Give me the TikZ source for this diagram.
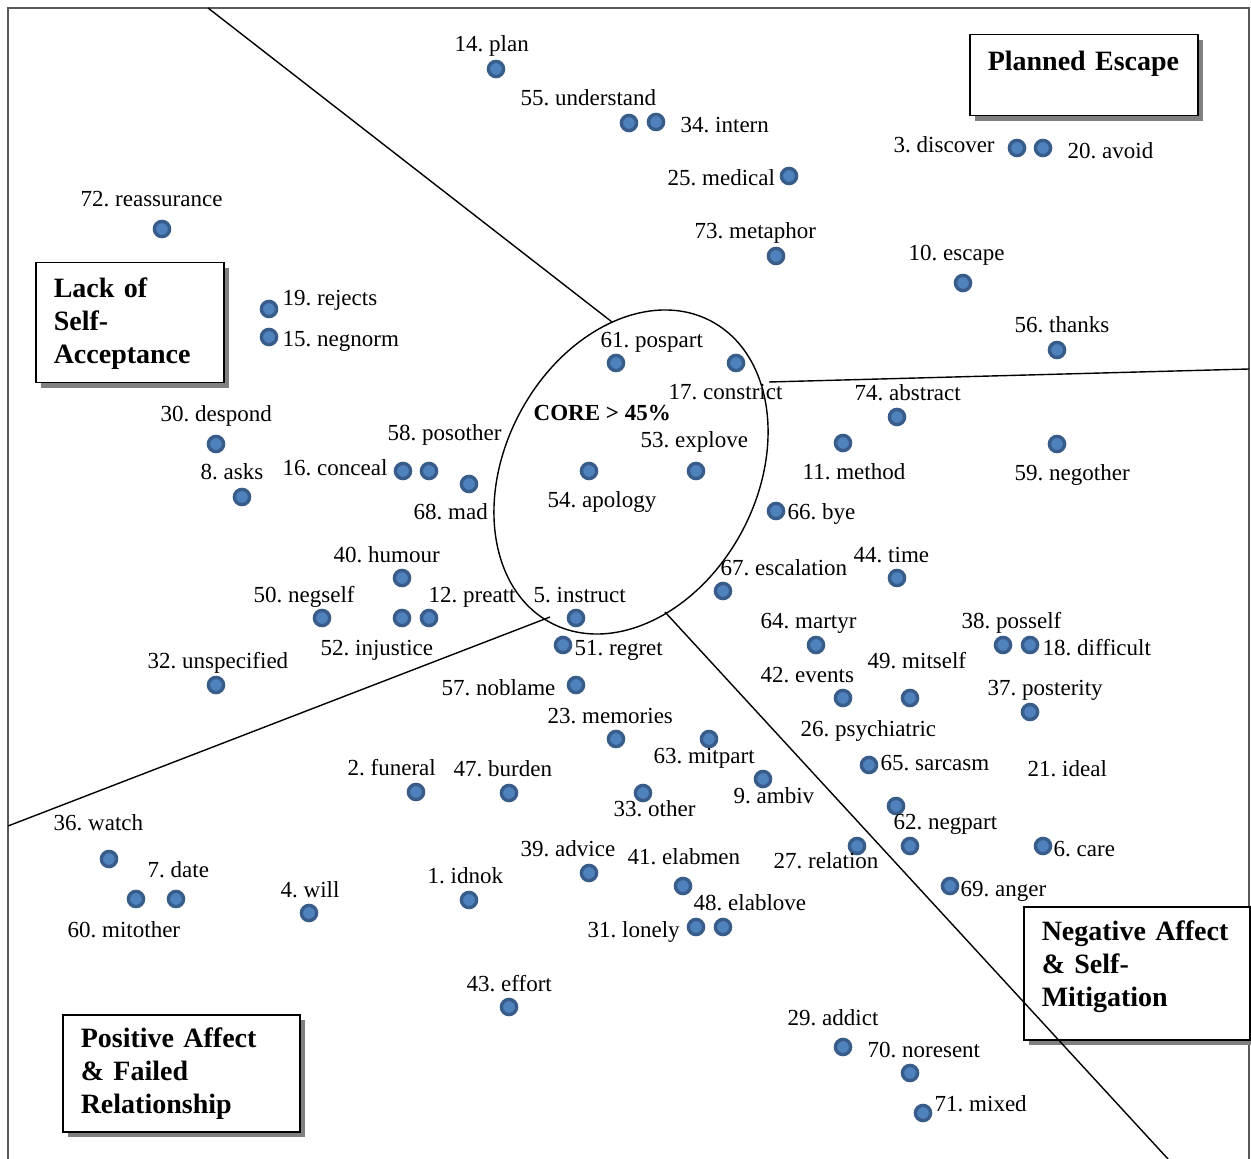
\documentclass[tikz,border=0pt]{standalone}
\usepackage{fontspec}
\setmainfont{Liberation Serif}
\usepackage{tikz}
\usetikzlibrary{shadows}
\definecolor{dotline}{HTML}{385D8A}
\definecolor{dotfill}{HTML}{4F81BD}
\frenchspacing

\begin{document}
\begin{tikzpicture}[x=0.5pt, y=-0.5pt, line width=0.7pt,
                    dot/.style = {circle, draw=dotline, fill=dotfill,
                        line width=1.7pt, minimum size=7.6pt, inner sep=0pt},
                    lbl/.style = {anchor=base west, inner sep=0pt,
                        font=\fontsize{11.5}{13}\selectfont},
                    catbox/.style = {draw, line width=0.75pt, fill=white,
                        drop shadow={shadow xshift=2.5pt, shadow yshift=-2.5pt,
                        fill=black!50, opacity=1},
                        anchor=north west, align=left, inner xsep=9pt, inner ysep=8pt,
                        font=\fontsize{14}{16.5}\selectfont\bfseries}]
        \useasboundingbox (0,0) rectangle (1251,1159);
        \draw[black!65] (8,1160) -- (8,8) -- (1249,8) -- (1249,1160);

        \node[catbox, text width=96pt, text height=10pt, text depth=14.5pt] (escape) at (969,34) {Planned Escape};
        \node[catbox, text width=76pt, text height=9.5pt, text depth=34.5pt] (lack) at (35,262) {Lack of\\Self-\\Acceptance};
        \node[catbox, text width=100.5pt, text height=8.5pt, text depth=34pt] (positive) at (62,1014) {Positive Affect\\\& Failed\\Relationship};
        \node[catbox, text width=95pt, text height=9pt, text depth=41.5pt] (negative) at (1023,906) {Negative Affect\\\& Self-\\Mitigation};

        \draw[rotate around={62:(631,472)}] (631,472) ellipse [x radius=170.8, y radius=125.9];
        \draw (208,8) -- (612,322);
        \draw (769,382) -- (1249,369);
        \draw (8,826) -- (550,617);
        \draw (665,612) -- (1168,1159);

        \node[lbl, font=\fontsize{11.5}{13}\selectfont\bfseries] (core) at (533,421) {CORE > 45\%};

        \node[dot] (p72) at (162,229) {};
        \node[dot] (p19) at (269,309) {};
        \node[dot] (p15) at (269,337) {};
        \node[dot] (p14) at (496,69) {};
        \node[dot] (p55) at (629,123) {};
        \node[dot] (p34) at (656,122) {};
        \node[dot] (p25) at (789,176) {};
        \node[dot] (p73) at (776,256) {};
        \node[dot] (p3) at (1017,148) {};
        \node[dot] (p20) at (1043,148) {};
        \node[dot] (p10) at (963,283) {};
        \node[dot] (p56) at (1057,350) {};
        \node[dot] (p61) at (616,363) {};
        \node[dot] (p17) at (736,363) {};
        \node[dot] (p74) at (897,417) {};
        \node[dot] (p11) at (843,443) {};
        \node[dot] (p59) at (1057,444) {};
        \node[dot] (p30) at (216,444) {};
        \node[dot] (p8) at (242,497) {};
        \node[dot] (p16) at (403,471) {};
        \node[dot] (p58) at (429,471) {};
        \node[dot] (p68) at (469,484) {};
        \node[dot] (p54) at (589,471) {};
        \node[dot] (p53) at (696,471) {};
        \node[dot] (p66) at (776,511) {};
        \node[dot] (p40) at (402,578) {};
        \node[dot] (p50) at (322,618) {};
        \node[dot] (p52) at (402,618) {};
        \node[dot] (p12) at (429,618) {};
        \node[dot] (p5) at (576,618) {};
        \node[dot] (p51) at (563,645) {};
        \node[dot] (p32) at (216,685) {};
        \node[dot] (p57) at (576,685) {};
        \node[dot] (p67) at (723,591) {};
        \node[dot] (p44) at (897,578) {};
        \node[dot] (p64) at (816,645) {};
        \node[dot] (p38) at (1003,645) {};
        \node[dot] (p18) at (1030,645) {};
        \node[dot] (p42) at (843,698) {};
        \node[dot] (p49) at (910,698) {};
        \node[dot] (p37) at (1030,712) {};
        \node[dot] (p65) at (869,765) {};
        \node[dot] (p62) at (896,806) {};
        \node[dot] (p26) at (910,846) {};
        \node[dot] (p27) at (857,846) {};
        \node[dot] (p6) at (1043,846) {};
        \node[dot] (p69) at (950,886) {};
        \node[dot] (p23) at (616,739) {};
        \node[dot] (p63) at (709,739) {};
        \node[dot] (p2) at (416,792) {};
        \node[dot] (p47) at (509,793) {};
        \node[dot] (p33) at (643,793) {};
        \node[dot] (p9) at (763,779) {};
        \node[dot] (p36) at (109,859) {};
        \node[dot] (p60) at (136,899) {};
        \node[dot] (p7) at (176,899) {};
        \node[dot] (p4) at (309,913) {};
        \node[dot] (p39) at (589,873) {};
        \node[dot] (p41) at (683,886) {};
        \node[dot] (p1) at (469,900) {};
        \node[dot] (p31) at (696,927) {};
        \node[dot] (p48) at (723,927) {};
        \node[dot] (p43) at (509,1007) {};
        \node[dot] (p29) at (843,1047) {};
        \node[dot] (p70) at (910,1073) {};
        \node[dot] (p71) at (923,1113) {};

        \node[lbl] (t72) at (80,207) {72. reassurance};
        \node[lbl] (t19) at (282,306) {19. rejects};
        \node[lbl] (t15) at (282,347) {15. negnorm};
        \node[lbl] (t14) at (454,52) {14. plan};
        \node[lbl] (t55) at (520,106) {55. understand};
        \node[lbl] (t34) at (680,133) {34. intern};
        \node[lbl] (t25) at (667,186) {25. medical};
        \node[lbl] (t73) at (694,239) {73. metaphor};
        \node[lbl] (t3) at (893,153) {3. discover};
        \node[lbl] (t20) at (1067,159) {20. avoid};
        \node[lbl] (t10) at (908,261) {10. escape};
        \node[lbl] (t56) at (1014,333) {56. thanks};
        \node[lbl] (t61) at (600,348) {61. pospart};
        \node[lbl] (t17) at (668,400) {17. constrict};
        \node[lbl] (t74) at (854,401) {74. abstract};
        \node[lbl] (t11) at (802,480) {11. method};
        \node[lbl] (t59) at (1014,481) {59. negother};
        \node[lbl] (t30) at (160,422) {30. despond};
        \node[lbl] (t8) at (200,480) {8. asks};
        \node[lbl] (t16) at (282,476) {16. conceal};
        \node[lbl] (t58) at (387,441) {58. posother};
        \node[lbl] (t68) at (413,520) {68. mad};
        \node[lbl] (t53) at (640,448) {53. explove};
        \node[lbl] (t54) at (547,508) {54. apology};
        \node[lbl] (t66) at (787,520) {66. bye};
        \node[lbl] (t40) at (333,562) {40. humour};
        \node[lbl] (t50) at (253,602) {50. negself};
        \node[lbl] (t12) at (428,602) {12. preatt};
        \node[lbl] (t52) at (320,655) {52. injustice};
        \node[lbl] (t5) at (533,602) {5. instruct};
        \node[lbl] (t51) at (574,655) {51. regret};
        \node[lbl] (t32) at (147,668) {32. unspecified};
        \node[lbl] (t57) at (441,695) {57. noblame};
        \node[lbl] (t67) at (720,575) {67. escalation};
        \node[lbl] (t44) at (853,562) {44. time};
        \node[lbl] (t64) at (760,628) {64. martyr};
        \node[lbl] (t38) at (961,628) {38. posself};
        \node[lbl] (t18) at (1042,655) {18. difficult};
        \node[lbl] (t42) at (760,682) {42. events};
        \node[lbl] (t49) at (867,668) {49. mitself};
        \node[lbl] (t37) at (987,695) {37. posterity};
        \node[lbl] (t26) at (800,736) {26. psychiatric};
        \node[lbl] (t65) at (880,770) {65. sarcasm};
        \node[lbl] (t21) at (1027,776) {21. ideal};
        \node[lbl] (t23) at (547,723) {23. memories};
        \node[lbl] (t63) at (653,763) {63. mitpart};
        \node[lbl] (t2) at (347,775) {2. funeral};
        \node[lbl] (t47) at (453,776) {47. burden};
        \node[lbl] (t33) at (613,816) {33. other};
        \node[lbl] (t9) at (733,803) {9. ambiv};
        \node[lbl] (t62) at (893,829) {62. negpart};
        \node[lbl] (t6) at (1053,856) {6. care};
        \node[lbl] (t36) at (53,830) {36. watch};
        \node[lbl] (t7) at (147,877) {7. date};
        \node[lbl] (t60) at (67,937) {60. mitother};
        \node[lbl] (t4) at (280,897) {4. will};
        \node[lbl] (t39) at (520,856) {39. advice};
        \node[lbl] (t41) at (627,864) {41. elabmen};
        \node[lbl] (t27) at (773,868) {27. relation};
        \node[lbl] (t69) at (960,896) {69. anger};
        \node[lbl] (t1) at (427,883) {1. idnok};
        \node[lbl] (t48) at (693,910) {48. elablove};
        \node[lbl] (t31) at (587,937) {31. lonely};
        \node[lbl] (t43) at (466,991) {43. effort};
        \node[lbl] (t29) at (787,1025) {29. addict};
        \node[lbl] (t70) at (867,1057) {70. noresent};
        \node[lbl] (t71) at (934,1111) {71. mixed};
    \end{tikzpicture}
\end{document}
